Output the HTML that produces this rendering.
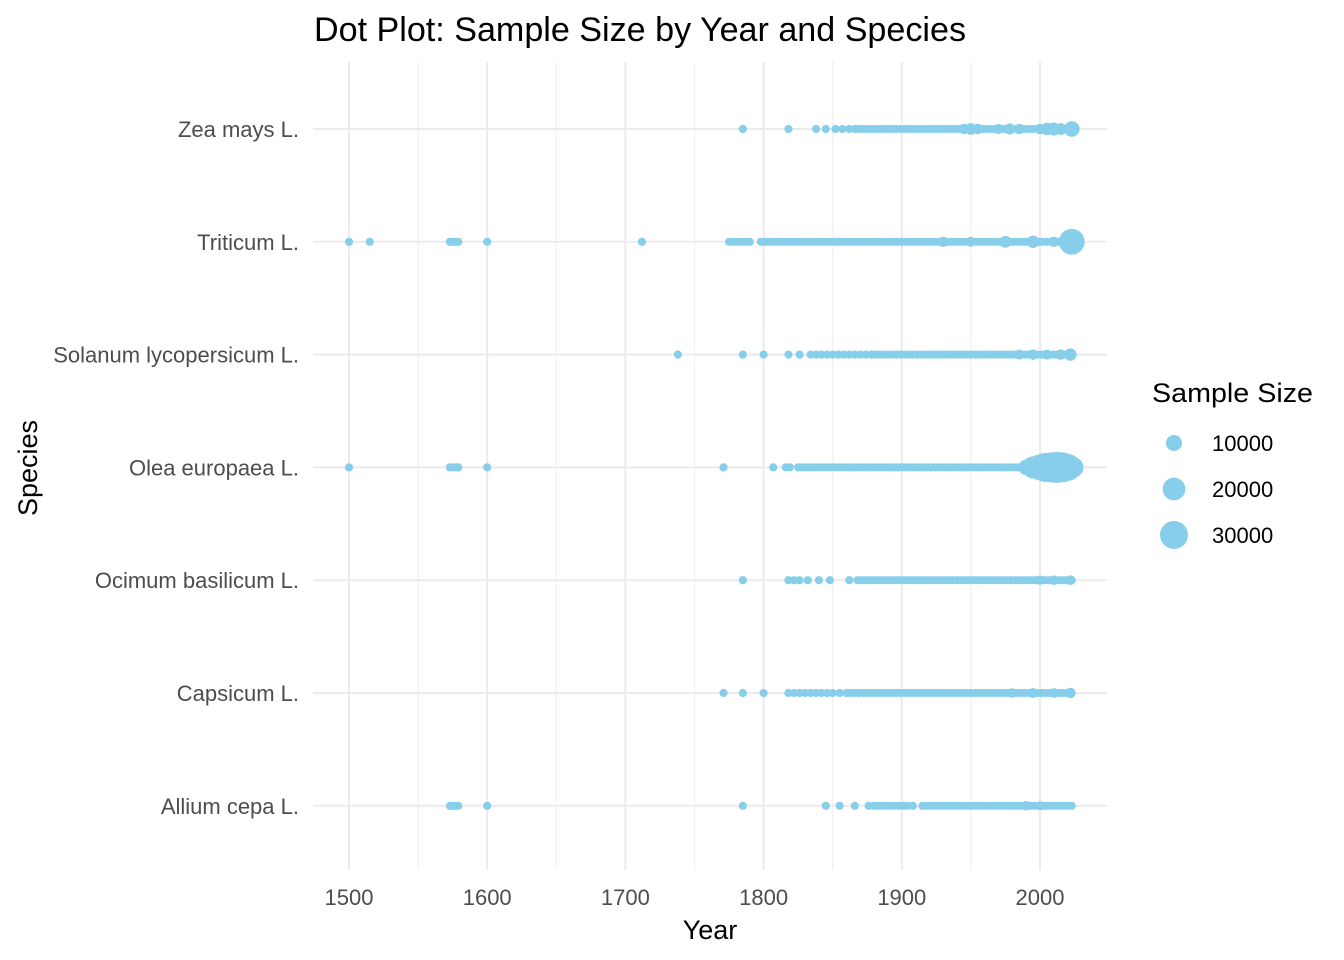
<!DOCTYPE html>
<html><head><meta charset="utf-8"><style>
body{margin:0;background:#fff}
svg{display:block;font-family:"Liberation Sans",sans-serif}
</style></head><body>
<svg id="chart" width="1344" height="960" viewBox="0 0 1344 960">
<text x="314" y="41" font-size="34" textLength="652" lengthAdjust="spacingAndGlyphs" fill="#000">Dot Plot: Sample Size by Year and Species</text>
<g id="grid"></g>
<g id="dots"></g>
<g id="axes"></g>
<text x="710" y="939" font-size="27" text-anchor="middle" fill="#000">Year</text>
<text transform="translate(37,468) rotate(-90)" font-size="27" text-anchor="middle" fill="#000">Species</text>
<g id="legend">
<text x="1152" y="402" font-size="27" textLength="161" lengthAdjust="spacingAndGlyphs" fill="#000">Sample Size</text>
</g>
</svg>
<script>
const species = ["Zea mays L.","Triticum L.","Solanum lycopersicum L.","Olea europaea L.","Ocimum basilicum L.","Capsicum L.","Allium cepa L."];
const xTicks = [1500,1600,1700,1800,1900,2000];
const xMinor = [1550,1650,1750,1850,1950];
const legendValues = [10000,20000,30000];
const zeaYears = [1785,1818,1838,1845,1852,1857,1862,1866,1869,1872,1875,1878,1881,1884,1887,1890,1893,1896,1899,1902,1905,1908,1911,1914,1917,1920,1923,1926,1929,1932,1935,1938,1941,1944,1947,1950,1953,1956,1959,1962,1965,1968,1971,1974,1977,1980,1983,1986,1989,1992,1995,1998,2001,2004,2007,2010,2013,2016,2019,2022];
const zeaBig = [[1945,1500],[1950,2500],[1955,1500],[1970,1200],[1978,2000],[1985,1500],[2000,1500],[2005,3000],[2010,3500],[2015,2500],[2023,6000]];
const triYears = [1500,1515,1573,1575,1577,1579,1600,1712,1775,1778,1781,1784,1787,1790,1798,1801,1804,1807,1810,1813,1816,1819,1822,1825,1828,1831,1834,1837,1840,1843,1846,1849,1852,1855,1858,1861,1864,1867,1870,1873,1876,1879,1882,1885,1888,1891,1894,1897,1900,1903,1906,1909,1912,1915,1918,1921,1924,1927,1930,1933,1936,1939,1942,1945,1948,1951,1954,1957,1960,1963,1966,1969,1972,1975,1978,1981,1984,1987,1990,1993,1996,1999,2002,2005,2008,2011,2014,2017,2020];
const triBig = [[1930,1500],[1950,1200],[1975,2500],[1995,3000],[2010,1500],[2023,20000]];
const solYears = [1738,1785,1800,1818,1826,1834,1838,1842,1846,1850,1854,1858,1862,1866,1870,1874,1878,1881,1884,1887,1890,1893,1896,1899,1902,1905,1908,1911,1914,1917,1920,1923,1926,1929,1932,1935,1938,1941,1944,1947,1950,1953,1956,1959,1962,1965,1968,1971,1974,1977,1980,1983,1986,1989,1992,1995,1998,2001,2004,2007,2010,2013,2016,2019,2022];
const solBig = [[1985,1200],[1995,1500],[2005,1200],[2015,1500],[2022,3000]];
const oleYears = [1500,1573,1575,1577,1579,1600,1771,1807,1816,1819,1825,1828,1831,1834,1837,1840,1843,1846,1849,1852,1855,1858,1861,1864,1867,1870,1873,1876,1879,1882,1885,1888,1891,1894,1897,1900,1903,1906,1909,1912,1915,1918,1921,1924,1927,1930,1933,1936,1939,1942,1945,1948,1951,1954,1957,1960,1963,1966,1969,1972,1975,1978,1981,1984,1987];
const oleBig = [[1990,6000],[1995,14000],[2000,20000],[2004,26000],[2008,28000],[2012,30000],[2016,28000],[2020,22000],[2024,12000]];
const ociYears = [1785,1818,1822,1826,1832,1840,1848,1862,1868,1871,1874,1877,1880,1883,1886,1889,1892,1895,1898,1901,1904,1907,1910,1913,1916,1919,1922,1925,1928,1931,1934,1937,1940,1943,1946,1949,1952,1955,1958,1961,1964,1967,1970,1973,1976,1979,1982,1985,1988,1991,1994,1997,2000,2003,2006,2009,2012,2015,2018,2021,2023];
const ociBig = [[2000,800],[2010,900],[2022,1000]];
const capYears = [1771,1785,1800,1818,1822,1826,1830,1834,1838,1842,1846,1850,1855,1860,1863,1866,1869,1872,1875,1878,1881,1884,1887,1890,1893,1896,1899,1902,1905,1908,1911,1914,1917,1920,1923,1926,1929,1932,1935,1938,1941,1944,1947,1950,1953,1956,1959,1962,1965,1968,1971,1974,1977,1980,1983,1986,1989,1992,1995,1998,2001,2004,2007,2010,2013,2016,2019,2022];
const capBig = [[1980,900],[1995,1200],[2010,1000],[2022,1500]];
const allYears = [1573,1575,1577,1579,1600,1785,1845,1855,1866,1876,1880,1883,1886,1889,1892,1895,1898,1901,1904,1908,1915,1918,1921,1924,1927,1930,1933,1936,1939,1942,1945,1948,1951,1954,1957,1960,1963,1966,1969,1972,1975,1978,1981,1984,1987,1990,1993,1996,1999,2002,2005,2008,2011,2014,2017,2020,2023];
const allBig = [[1990,900],[2000,700]];
const smallSize = 100;

const NS="http://www.w3.org/2000/svg";
const px0=313, px1=1107, py0=62, py1=870;
function xScale(y){return 349+(y-1500)*1.382;}
function yScale(i){return 129+i*112.8;}
function rScale(v){return Math.sqrt(16+0.0075*v);}
function mk(tag,attrs,parent){const e=document.createElementNS(NS,tag);for(const k in attrs)e.setAttribute(k,attrs[k]);parent.appendChild(e);return e;}
const grid=document.getElementById('grid'),dots=document.getElementById('dots'),axes=document.getElementById('axes'),legend=document.getElementById('legend');
xMinor.forEach(t=>{const l=mk('line',{x1:xScale(t),x2:xScale(t),y1:py0,y2:py1,stroke:'#f0f0f0','stroke-width':1.2},grid);

});
xTicks.forEach(t=>{const l=mk('line',{x1:xScale(t),x2:xScale(t),y1:py0,y2:py1,stroke:'#ebebeb','stroke-width':2},grid);


const tx=mk('text',{x:xScale(t),y:905,'font-size':22,'text-anchor':'middle',fill:'#4d4d4d'},axes);tx.textContent=t;

});
species.forEach((s,i)=>{const l=mk('line',{x1:px0,x2:px1,y1:yScale(i),y2:yScale(i),stroke:'#ebebeb','stroke-width':2},grid);


const tx=mk('text',{x:299,y:yScale(i)+8,'font-size':22,'text-anchor':'end',fill:'#4d4d4d'},axes);tx.textContent=s;

});
const groups=[[zeaYears,zeaBig],[triYears,triBig],[solYears,solBig],[oleYears,oleBig],[ociYears,ociBig],[capYears,capBig],[allYears,allBig]];
groups.forEach((g,i)=>{
 g[0].forEach(y=>{const c=mk('circle',{cx:xScale(y),cy:yScale(i),r:rScale(smallSize),fill:'#87CEEB'},dots);
 
 });
 g[1].forEach(p=>{const c=mk('circle',{cx:xScale(p[0]),cy:yScale(i),r:rScale(p[1]),fill:'#87CEEB'},dots);
 
 });
});
legendValues.forEach((v,i)=>{const cy=443+i*46;
 const c=mk('circle',{cx:1174,cy:cy,r:rScale(v)-1.5,fill:'#87CEEB'},legend);
 
 
 const t=mk('text',{x:1212,y:cy+8,'font-size':22,fill:'#000'},legend);t.textContent=v;
 
 });
</script>
</body></html>
